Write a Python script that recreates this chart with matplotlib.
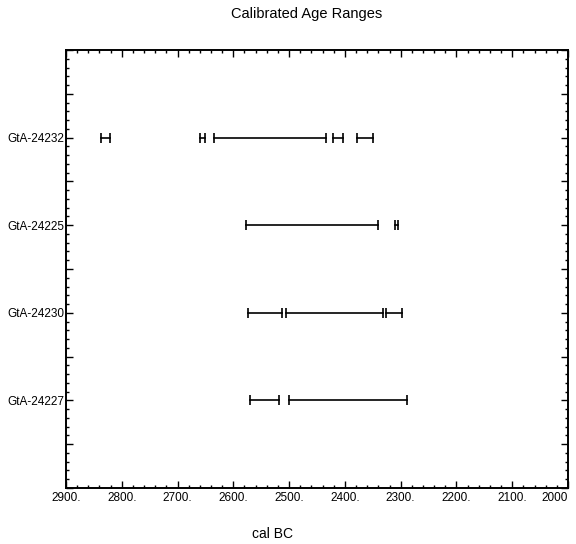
import matplotlib
matplotlib.use('Agg')
import matplotlib.pyplot as plt
import numpy as np
from matplotlib.ticker import MultipleLocator

# samples, top to bottom
samples = ['GtA-24232', 'GtA-24225', 'GtA-24230', 'GtA-24227']
sample_pos = [4, 3, 2, 1]

# calibrated ranges (cal BC), one list of (start, end) per sample
ranges = [
    [(2838, 2822), (2660, 2651), (2635, 2434), (2421, 2403), (2378, 2350)],
    [(2577, 2341), (2310, 2305)],
    [(2574, 2512), (2506, 2332), (2326, 2298)],
    [(2570, 2518), (2500, 2289)],
]

x_ticks = [2900, 2800, 2700, 2600, 2500, 2400, 2300, 2200, 2100, 2000]
x_labels = ['2900.', '2800.', '2700.', '2600.', '2500.', '2400.', '2300.', '2200.', '2100.', '2000']

plt.rcParams['font.family'] = ['Liberation Sans Narrow', 'Liberation Sans', 'DejaVu Sans']

fig = plt.figure(figsize=(5.76, 5.44), dpi=100)
ax = fig.add_axes([66/576, 1-488/544, (568-66)/576, (488-50)/544])

for y, segs in zip(sample_pos, ranges):
    for lo, hi in segs:
        ax.plot([lo, hi], [y, y], color='black', lw=1.2, marker='|', ms=7, mew=1.2)

ax.set_xlim(2900, 2000)
ax.set_ylim(0, 5)

ax.set_xticks(x_ticks)
ax.set_xticklabels(x_labels, fontsize=8.5)
ax.get_xticklabels()[-1].set_ha('right')
ax.xaxis.set_minor_locator(MultipleLocator(20))

yt = np.arange(0, 5.01, 0.5)
ylabs = []
for v in yt:
    if v in sample_pos:
        ylabs.append(samples[sample_pos.index(v)])
    else:
        ylabs.append('')
ax.set_yticks(yt)
ax.set_yticklabels(ylabs, fontsize=8.5)
ax.yaxis.set_minor_locator(MultipleLocator(0.1))

ax.tick_params(which='both', direction='in', top=True, right=True, width=1)
ax.tick_params(which='major', length=5, pad=3)
ax.tick_params(axis='y', which='major', pad=1)
ax.tick_params(which='minor', length=2)
for s in ax.spines.values():
    s.set_linewidth(1.4)

fig.text(307/576, 1-14/544, 'Calibrated Age Ranges', ha='center', va='center', fontsize=10.5,
         family=['Liberation Sans', 'DejaVu Sans'])
fig.text(272/576, 1-534/544, 'cal BC', ha='center', va='center', fontsize=10,
         family=['Liberation Sans', 'DejaVu Sans'])

fig.savefig('out.png', dpi=100)
